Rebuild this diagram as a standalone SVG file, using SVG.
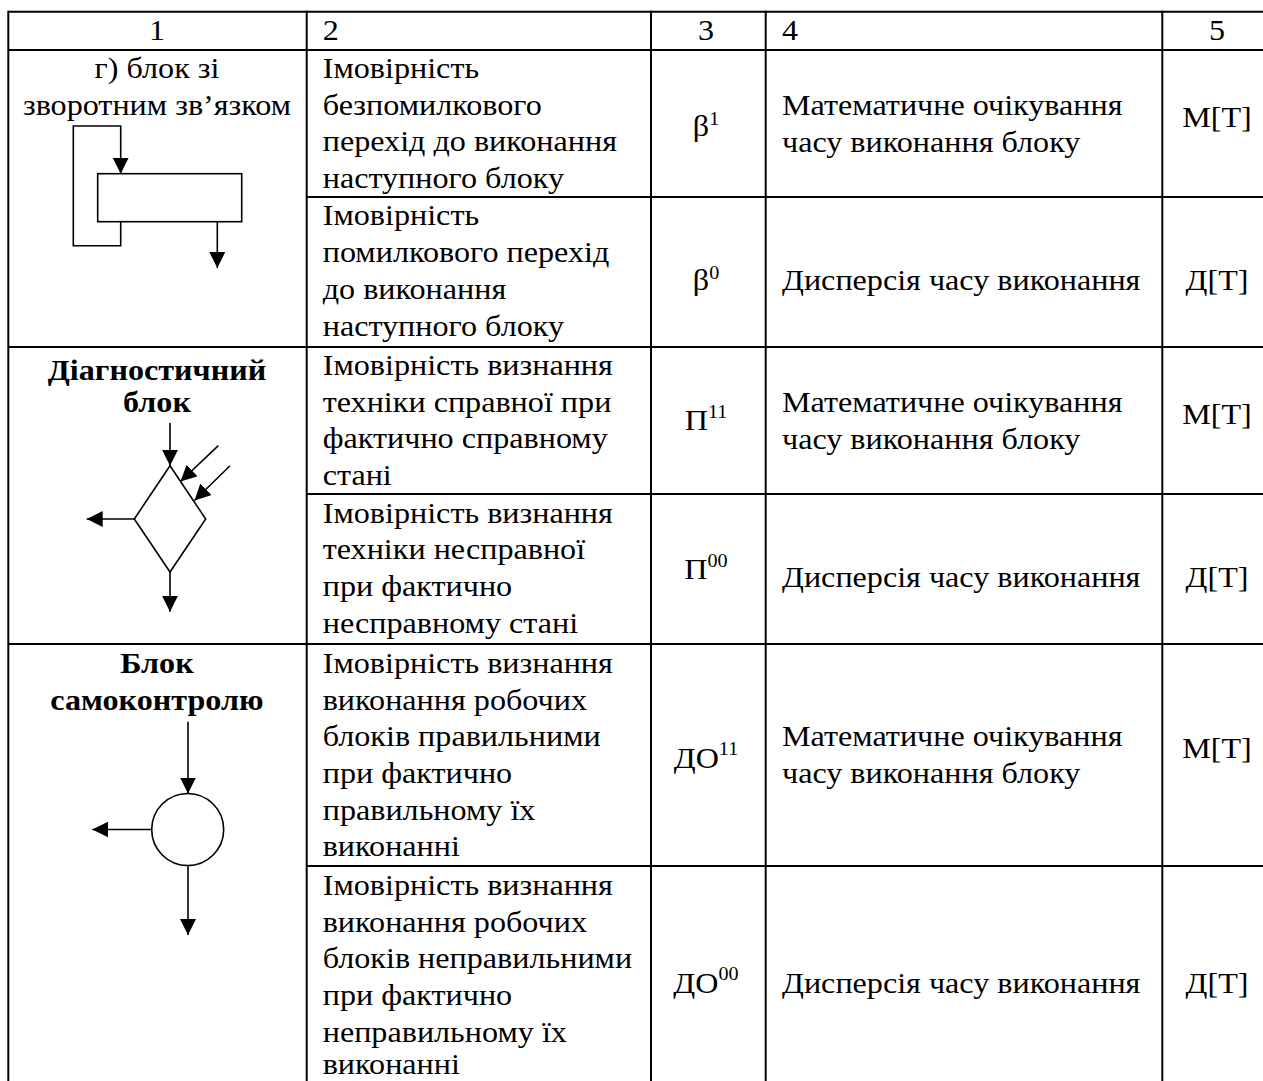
<svg xmlns="http://www.w3.org/2000/svg" width="1263" height="1081" viewBox="0 0 1263 1081">
<style>
  .grid line { stroke:#000; stroke-width:2; }
  .t { font-family:"Liberation Serif","Times New Roman",serif; font-size:29.5px; fill:#000;
       transform-box:fill-box; transform-origin:left center; transform:scaleX(1.09); }
  .c { text-anchor:middle; transform-origin:center center; }
  .b { font-weight:bold; }
  .sup { font-size:18.5px; }
  .shape { fill:#fff; stroke:#000; stroke-width:1.6; }
  .conn path { fill:none; stroke:#000; stroke-width:1.6; marker-end:url(#arrow); }
</style>
<defs>
  <marker id="arrow" markerUnits="userSpaceOnUse" markerWidth="17" markerHeight="17" refX="16" refY="8" orient="auto">
    <path d="M0,0 L16,8 L0,16 z" fill="#000"/>
  </marker>
</defs>
<rect width="1263" height="1081" fill="#fff"/>

<g id="table-grid" class="grid">
  <line x1="8.3" y1="11.7" x2="1272" y2="11.7"/>
  <line x1="8.3" y1="50" x2="1272" y2="50"/>
  <line x1="306.7" y1="197" x2="1272" y2="197"/>
  <line x1="8.3" y1="347" x2="1272" y2="347"/>
  <line x1="306.7" y1="494" x2="1272" y2="494"/>
  <line x1="8.3" y1="644" x2="1272" y2="644"/>
  <line x1="306.7" y1="866" x2="1272" y2="866"/>
  <line x1="8.3" y1="10.7" x2="8.3" y2="1081"/>
  <line x1="306.7" y1="10.7" x2="306.7" y2="1081"/>
  <line x1="651" y1="10.7" x2="651" y2="1081"/>
  <line x1="765.7" y1="10.7" x2="765.7" y2="1081"/>
  <line x1="1162.3" y1="10.7" x2="1162.3" y2="1081"/>
</g>

<g id="header">
  <text class="t c" x="157" y="40">1</text>
  <text class="t" x="322.7" y="40">2</text>
  <text class="t c" x="706" y="40">3</text>
  <text class="t" x="782" y="40">4</text>
  <text class="t c" x="1217" y="40">5</text>
</g>

<g id="row-feedback">
  <text class="t c" x="157" y="78">г) блок зі</text>
  <text class="t c" x="157" y="115">зворотним зв’язком</text>
  <text class="t" x="322.7" y="78">Імовірність</text>
  <text class="t" x="322.7" y="115">безпомилкового</text>
  <text class="t" x="322.7" y="151.5">перехід до виконання</text>
  <text class="t" x="322.7" y="188">наступного блоку</text>
  <text class="t c" x="706" y="136">β<tspan class="sup" dy="-11">1</tspan></text>
  <text class="t" x="782" y="115">Математичне очікування</text>
  <text class="t" x="782" y="152">часу виконання блоку</text>
  <text class="t c" x="1217" y="126.7">М[T]</text>

  <text class="t" x="322.7" y="225.5">Імовірність</text>
  <text class="t" x="322.7" y="262.2">помилкового перехід</text>
  <text class="t" x="322.7" y="299">до виконання</text>
  <text class="t" x="322.7" y="335.6">наступного блоку</text>
  <text class="t c" x="706" y="290">β<tspan class="sup" dy="-11">0</tspan></text>
  <text class="t" x="782" y="290">Дисперсія часу виконання</text>
  <text class="t c" x="1217" y="290">Д[T]</text>
</g>

<g id="feedback-block">
  <rect class="shape" x="97.7" y="173.7" width="144" height="48"/>
</g>

<g id="row-diagnostic">
  <text class="t c b" x="157" y="380">Діагностичний</text>
  <text class="t c b" x="157" y="411.7">блок</text>
  <text class="t" x="322.7" y="375">Імовірність визнання</text>
  <text class="t" x="322.7" y="411.7">техніки справної при</text>
  <text class="t" x="322.7" y="448.4">фактично справному</text>
  <text class="t" x="322.7" y="485">стані</text>
  <text class="t c" x="706" y="430">П<tspan class="sup" dy="-12">11</tspan></text>
  <text class="t" x="782" y="412">Математичне очікування</text>
  <text class="t" x="782" y="449">часу виконання блоку</text>
  <text class="t c" x="1217" y="423.7">М[T]</text>

  <text class="t" x="322.7" y="522.7">Імовірність визнання</text>
  <text class="t" x="322.7" y="559.4">техніки несправної</text>
  <text class="t" x="322.7" y="596">при фактично</text>
  <text class="t" x="322.7" y="632.8">несправному стані</text>
  <text class="t c" x="706" y="579">П<tspan class="sup" dy="-12">00</tspan></text>
  <text class="t" x="782" y="587">Дисперсія часу виконання</text>
  <text class="t c" x="1217" y="587">Д[T]</text>
</g>

<g id="diagnostic-block">
  <polygon class="shape" points="170,465.7 205.7,519 170,572 134.3,519"/>
</g>

<g id="row-selfcontrol">
  <text class="t c b" x="157" y="673.3">Блок</text>
  <text class="t c b" x="157" y="710">самоконтролю</text>
  <text class="t" x="322.7" y="673">Імовірність визнання</text>
  <text class="t" x="322.7" y="709.7">виконання робочих</text>
  <text class="t" x="322.7" y="746.4">блоків правильними</text>
  <text class="t" x="322.7" y="783">при фактично</text>
  <text class="t" x="322.7" y="819.8">правильному їх</text>
  <text class="t" x="322.7" y="856.5">виконанні</text>
  <text class="t c" x="706" y="768">ДО<tspan class="sup" dy="-13">11</tspan></text>
  <text class="t" x="782" y="746.5">Математичне очікування</text>
  <text class="t" x="782" y="783.5">часу виконання блоку</text>
  <text class="t c" x="1217" y="758">М[T]</text>

  <text class="t" x="322.7" y="895">Імовірність визнання</text>
  <text class="t" x="322.7" y="931.7">виконання робочих</text>
  <text class="t" x="322.7" y="968.4">блоків неправильними</text>
  <text class="t" x="322.7" y="1005">при фактично</text>
  <text class="t" x="322.7" y="1041.8">неправильному їх</text>
  <text class="t" x="322.7" y="1074.5">виконанні</text>
  <text class="t c" x="706" y="993">ДО<tspan class="sup" dy="-13">00</tspan></text>
  <text class="t" x="782" y="993">Дисперсія часу виконання</text>
  <text class="t c" x="1217" y="993">Д[T]</text>
</g>

<g id="selfcontrol-block">
  <circle class="shape" cx="187.7" cy="829.5" r="36"/>
</g>

<g id="connectors" class="conn">
  <path d="M120.7,221.7 V245.7 H73.3 V126 H120.7 V173.7"/>
  <path d="M217.3,221.7 V268"/>
  <path d="M170,423 V465.7"/>
  <path d="M218.3,445.7 L180.5,481.5"/>
  <path d="M230,465.7 L194.5,500.5"/>
  <path d="M134.3,519 H86.7"/>
  <path d="M170,572 V611.7"/>
  <path d="M188,721.7 V793.5"/>
  <path d="M151.7,829.5 H92.3"/>
  <path d="M188,865.5 V935"/>
</g>
</svg>
